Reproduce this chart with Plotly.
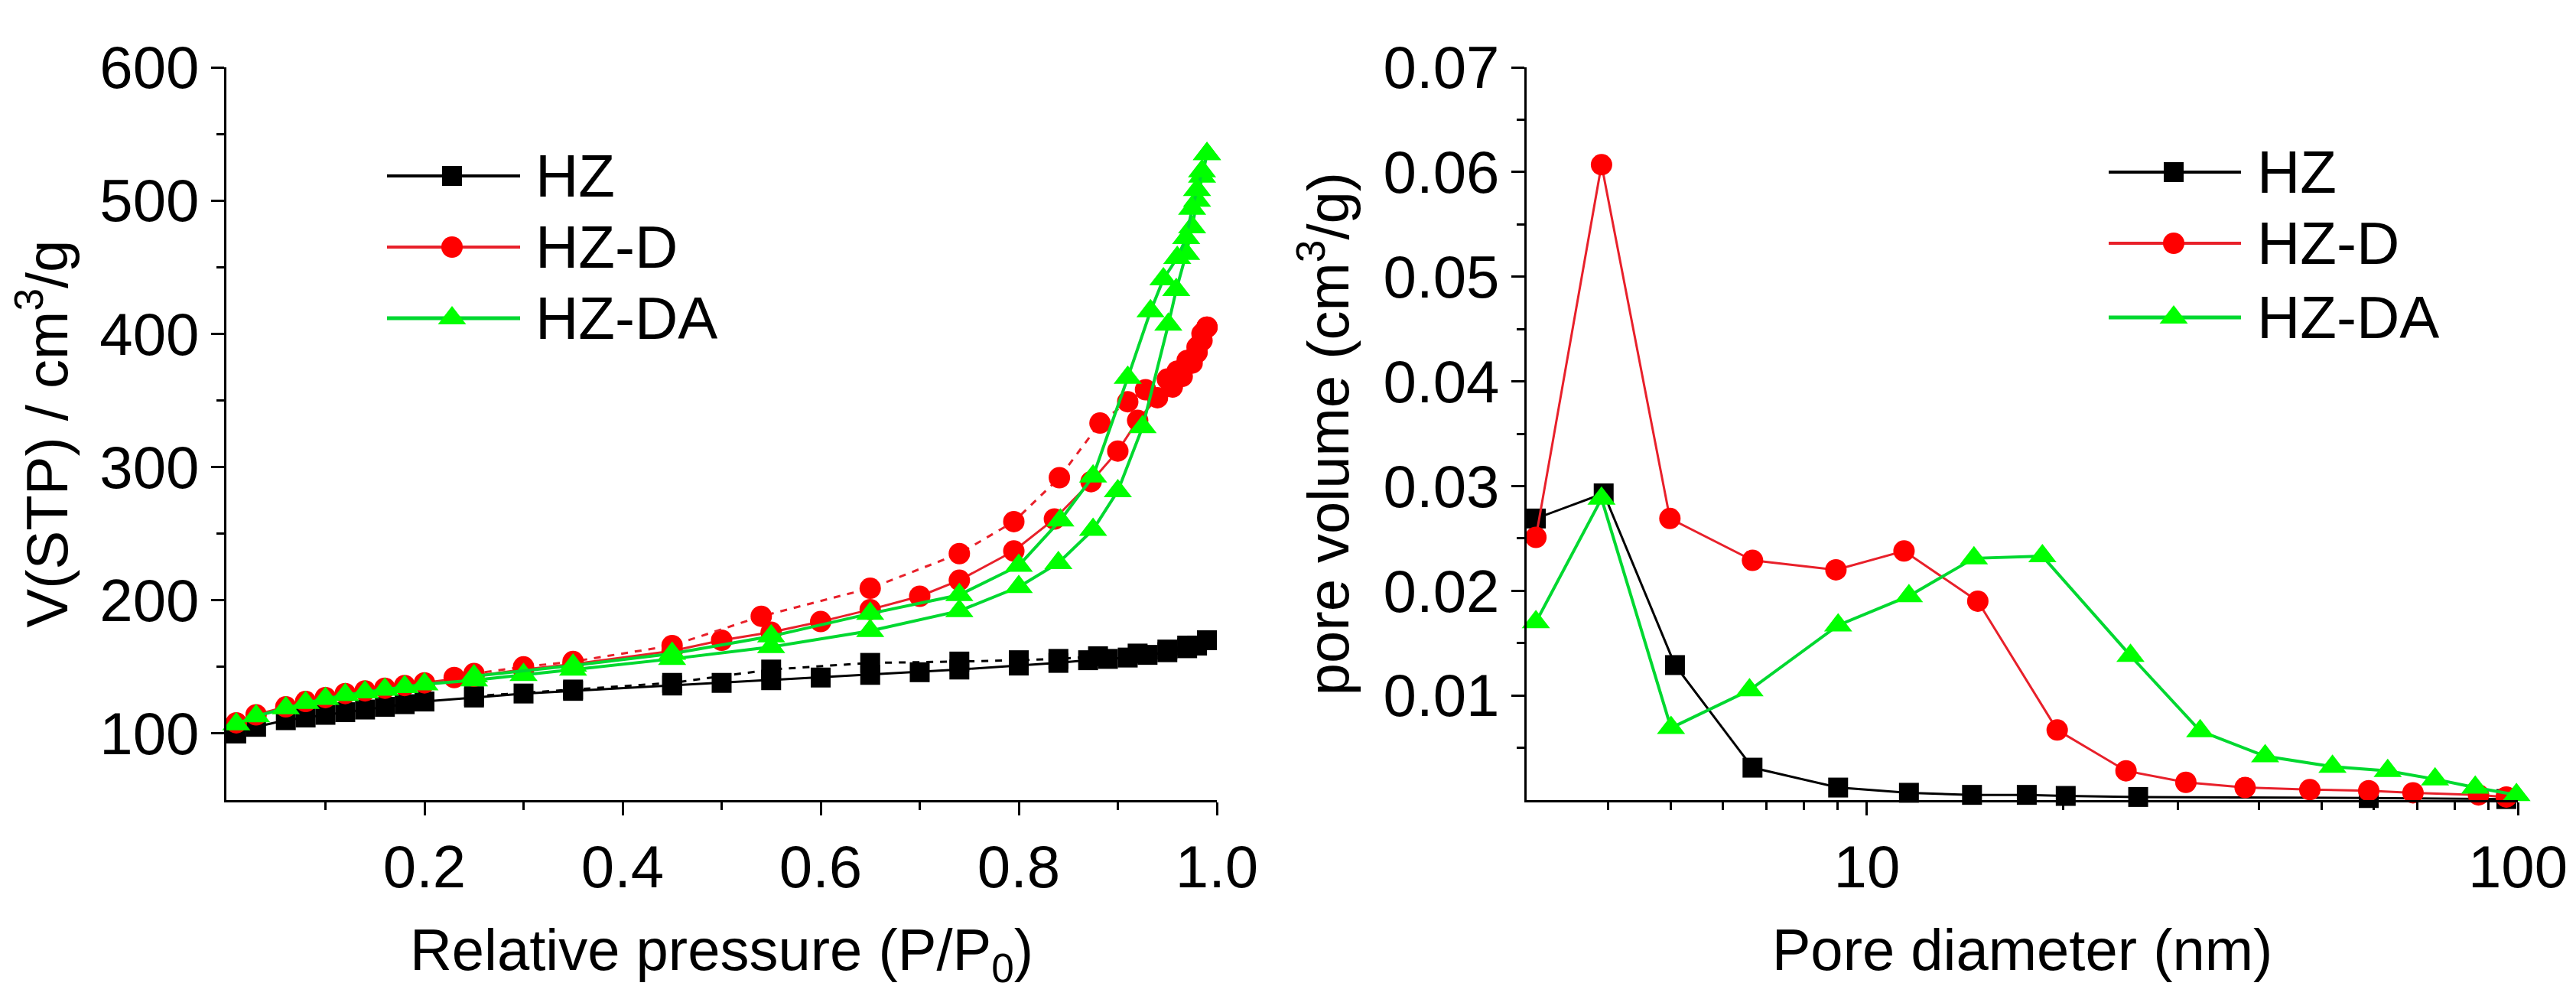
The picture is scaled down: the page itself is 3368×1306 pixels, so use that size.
import plotly.graph_objects as go

# ---------------- data: N2 isotherms (left) ----------------
p_hz_ads = [0.01,0.03,0.06,0.08,0.10,0.12,0.14,0.16,0.18,0.20,0.25,0.30,0.35,0.45,0.50,0.55,0.60,0.65,0.70,0.74,0.80,0.84,0.87,0.89,0.91,0.93,0.95,0.97,0.98,0.99]
v_hz_ads = [100,105,110,112,114,116,118,120,122,124,127,130,132,136,138,140,142,144,146,148,151,153,155,156,157,159,161,164,166,170]
p_hz_des = [0.99,0.97,0.95,0.92,0.88,0.84,0.80,0.74,0.65,0.55,0.45,0.35,0.25]
v_hz_des = [170,166,163,160,158,156,155,154,153,148,138,133,128]

p_d_ads = [0.01,0.03,0.06,0.08,0.10,0.12,0.14,0.16,0.18,0.20,0.25,0.30,0.35,0.45,0.50,0.55,0.60,0.65,0.70,0.74,0.795,0.836,0.873,0.90,0.92,0.94,0.955,0.965,0.975,0.98,0.985,0.99]
v_d_ads = [108,114,120,124,127,130,132,134,136,138,143,148,152,162,170,176,184,193,203,215,237,261,289,312,335,352,360,368,378,386,395,405]
p_d_des = [0.99,0.985,0.98,0.97,0.96,0.95,0.928,0.91,0.882,0.841,0.795,0.74,0.65,0.54,0.45,0.35,0.30,0.25,0.23]
v_d_des = [405,400,390,380,372,366,358,349,333,292,259,235,209,188,166,154,150,145,142]

p_da_ads = [0.01,0.03,0.06,0.08,0.10,0.12,0.14,0.16,0.18,0.20,0.25,0.30,0.35,0.45,0.55,0.65,0.74,0.80,0.84,0.875,0.90,0.925,0.951,0.959,0.969,0.975,0.98,0.985,0.99]
v_da_ads = [107,113,119,123,126,129,131,133,135,137,140,144,148,156,165,177,192,210,228,253,282,330,407,433,460,480,500,518,535]
p_da_des = [0.99,0.985,0.98,0.975,0.969,0.96,0.946,0.933,0.91,0.875,0.842,0.80,0.74,0.65,0.55,0.45,0.35,0.25]
v_da_des = [535,522,508,494,472,457,441,417,367,293,260,226,204,190,173,160,151,143]

# ---------------- data: pore size distribution (right) ----------------
d_hz = [3.1,3.94,5.07,6.67,9.03,11.6,14.5,17.6,20.2,26.1,59,96]
pv_hz = [0.0269,0.0293,0.0129,0.0031,0.0012,0.0007,0.0005,0.0005,0.0004,0.0003,0.0002,0.0001]
d_d = [3.1,3.91,4.98,6.67,8.96,11.4,14.8,19.6,25.0,30.9,38.1,47.9,59,69,87,96]
pv_d = [0.0251,0.0607,0.0269,0.0229,0.0220,0.0238,0.0190,0.0067,0.0028,0.0017,0.0012,0.0010,0.0009,0.0007,0.0005,0.0003]
d_da = [3.1,3.91,5.0,6.6,9.03,11.6,14.6,18.6,25.4,32.5,40.9,51.9,63.1,74.6,86,99.5]
pv_da = [0.0170,0.0288,0.0069,0.0105,0.0167,0.0195,0.0231,0.0233,0.0138,0.0066,0.0042,0.0032,0.0028,0.0020,0.0012,0.0005]

names = ["HZ", "HZ-D", "HZ-DA"]
left_xticks = [0.2, 0.4, 0.6, 0.8, 1.0]
left_xticklabels = ["0.2", "0.4", "0.6", "0.8", "1.0"]
left_yticks = [100, 200, 300, 400, 500, 600]
right_yticks = [0.01, 0.02, 0.03, 0.04, 0.05, 0.06, 0.07]
right_yticklabels = ["0.01", "0.02", "0.03", "0.04", "0.05", "0.06", "0.07"]
right_xticks = [10, 100]
right_xticklabels = ["10", "100"]

# ---------------- styles ----------------
W, H = 3368, 1306
FONT = "Arial, Liberation Sans, sans-serif"
line_col = {"HZ": "#000000", "HZ-D": "#E8202A", "HZ-DA": "#00D830"}
mk_col = {"HZ": "#000000", "HZ-D": "#FF0000", "HZ-DA": "#00FF00"}
sym = {"HZ": "square", "HZ-D": "circle", "HZ-DA": "triangle-up"}
msize = {"HZ": 26, "HZ-D": 28, "HZ-DA": 32}
lw = {"HZ": 3, "HZ-D": 3, "HZ-DA": 4}

# legend layout (pixel positions in the figure)
legend_boxes = [
    dict(x0=498, x1=672, xm=583, xt=690, rows=[222, 315, 408]),
    dict(x0=2749, x1=2922, xm=2834, xt=2941, rows=[217, 310, 407]),
]

fig = go.Figure()

iso = {
    "HZ": (p_hz_ads, v_hz_ads, p_hz_des, v_hz_des),
    "HZ-D": (p_d_ads, v_d_ads, p_d_des, v_d_des),
    "HZ-DA": (p_da_ads, v_da_ads, p_da_des, v_da_des),
}
for n in names:
    pa, va, pd_, vd = iso[n]
    mk = dict(symbol=sym[n], size=msize[n], color=mk_col[n], line=dict(width=0))
    fig.add_trace(go.Scatter(x=pa, y=va, mode="lines+markers", name=n + " adsorption", showlegend=False,
                             line=dict(color=line_col[n], width=lw[n]), marker=mk,
                             xaxis="x", yaxis="y", cliponaxis=False))
    fig.add_trace(go.Scatter(x=pd_, y=vd, mode="lines+markers", name=n + " desorption", showlegend=False,
                             line=dict(color=line_col[n], width=lw[n],
                                       dash="solid" if n == "HZ-DA" else "dash"),
                             marker=mk, xaxis="x", yaxis="y", cliponaxis=False))

psd = {"HZ": (d_hz, pv_hz), "HZ-D": (d_d, pv_d), "HZ-DA": (d_da, pv_da)}
for n in names:
    dx, dy = psd[n]
    fig.add_trace(go.Scatter(x=dx, y=dy, mode="lines+markers", name=n, showlegend=False,
                             line=dict(color=line_col[n], width=lw[n]),
                             marker=dict(symbol=sym[n], size=msize[n], color=mk_col[n], line=dict(width=0)),
                             xaxis="x2", yaxis="y2", cliponaxis=False))

# hand-drawn legends: symbols on a full-figure pixel overlay axis, labels in paper coords
annotations = []
for box in legend_boxes:
    for n, ry in zip(names, box["rows"]):
        fig.add_trace(go.Scatter(x=[box["x0"], box["x1"]], y=[ry, ry], mode="lines",
                                 line=dict(color=line_col[n], width=lw[n] + 1),
                                 xaxis="x3", yaxis="y3", showlegend=False, hoverinfo="skip"))
        fig.add_trace(go.Scatter(x=[box["xm"]], y=[ry], mode="markers",
                                 marker=dict(symbol=sym[n], size=msize[n], color=mk_col[n], line=dict(width=0)),
                                 xaxis="x3", yaxis="y3", showlegend=False, hoverinfo="skip"))
        annotations.append(dict(x=box["xt"] / W, y=1 - ry / H, xref="paper", yref="paper", text=n,
                                showarrow=False, xanchor="left", yanchor="middle",
                                font=dict(family=FONT, size=78, color="black")))

ydom = [1 - 1038 / H, 1 - 80 / H]
axis_common = dict(showline=True, linecolor="black", linewidth=3, ticks="outside",
                   tickcolor="black", tickwidth=3, ticklen=17, showgrid=False, zeroline=False,
                   mirror=False, automargin=False,
                   tickfont=dict(family=FONT, size=78, color="black"),
                   title_font=dict(family=FONT, size=76, color="black"))
minor_common = dict(ticks="outside", ticklen=10, tickwidth=3, tickcolor="black", showgrid=False)

fig.update_layout(
    width=W, height=H, paper_bgcolor="white", plot_bgcolor="rgba(0,0,0,0)", showlegend=False,
    margin=dict(l=0, r=0, t=0, b=0, autoexpand=False), font=dict(family=FONT, color="black"),
    annotations=annotations,
    xaxis=dict(domain=[288 / W, 1583 / W], range=[0, 1.0], anchor="y",
               tickmode="array", tickvals=left_xticks, ticktext=left_xticklabels,
               minor=dict(tickmode="array", tickvals=[0.1, 0.3, 0.5, 0.7, 0.9], **minor_common),
               title=dict(text="Relative pressure (P/P<sub>0</sub>)", standoff=40),
               **axis_common),
    yaxis=dict(domain=ydom, range=[50, 600], anchor="x",
               tickmode="array", tickvals=left_yticks,
               minor=dict(tickmode="array", tickvals=[150, 250, 350, 450, 550], **minor_common),
               title=dict(text="V(STP) / cm<sup>3</sup>/g", standoff=24),
               **axis_common),
    xaxis2=dict(domain=[1988 / W, 3284 / W], type="log", range=[0.47712, 2.0], anchor="y2",
                tickmode="array", tickvals=right_xticks, ticktext=right_xticklabels,
                minor=dict(tickmode="array", tickvals=[4, 5, 6, 7, 8, 9, 20, 30, 40, 50, 60, 70, 80, 90], **minor_common),
                title=dict(text="Pore diameter (nm)", standoff=40),
                **axis_common),
    yaxis2=dict(domain=ydom, range=[0, 0.07], anchor="x2",
                tickmode="array", tickvals=right_yticks, ticktext=right_yticklabels,
                minor=dict(tickmode="array", tickvals=[0.005, 0.015, 0.025, 0.035, 0.045, 0.055, 0.065], **minor_common),
                title=dict(text="pore volume (cm<sup>3</sup>/g)", standoff=20),
                **axis_common),
    xaxis3=dict(domain=[0, 1], range=[0, W], visible=False, fixedrange=True, anchor="y3", automargin=False),
    yaxis3=dict(domain=[0, 1], range=[H, 0], visible=False, fixedrange=True, anchor="x3", automargin=False),
)

fig.write_html("out.html")
